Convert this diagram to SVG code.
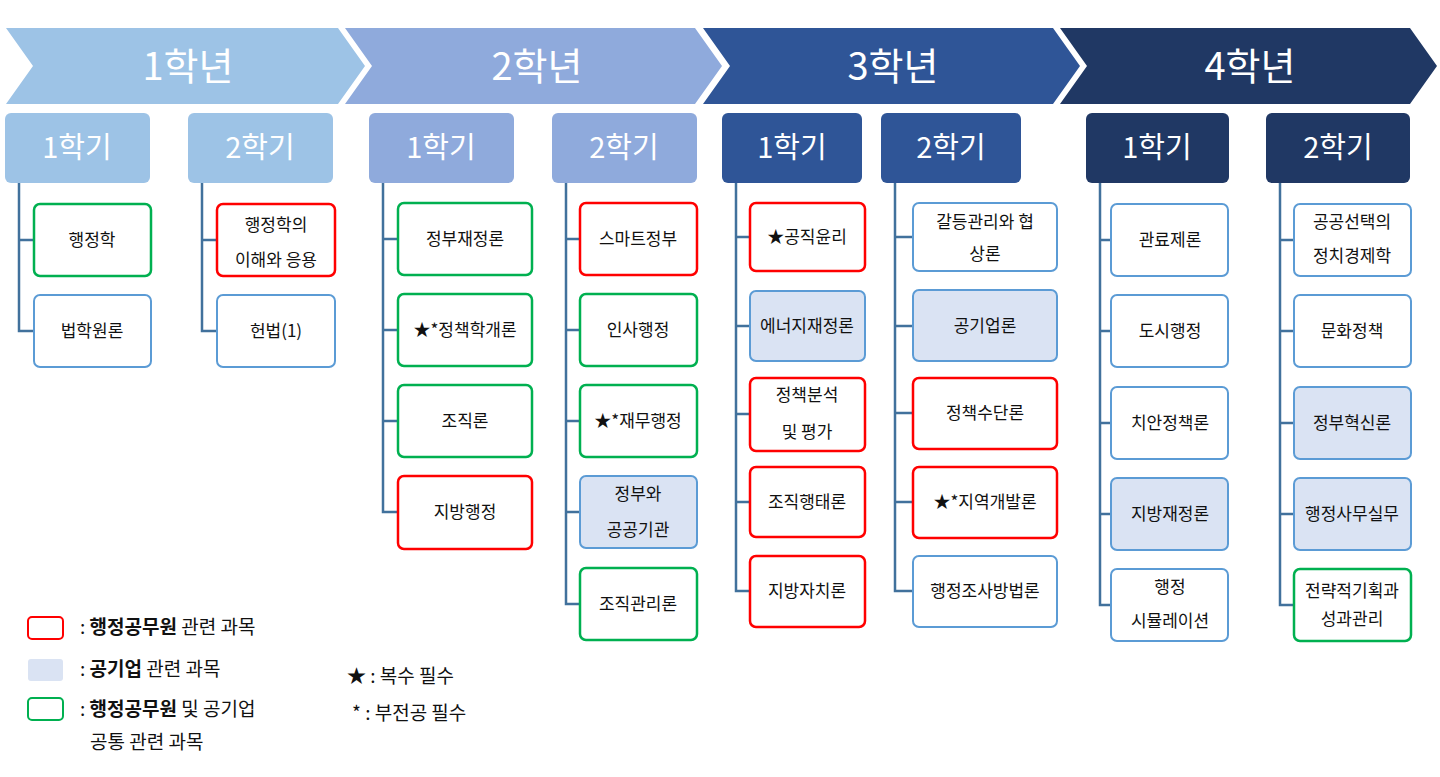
<svg xmlns="http://www.w3.org/2000/svg" width="1440" height="777" viewBox="0 0 1440 777">
<style>
text{font-family:"Noto Sans CJK KR","Noto Sans",sans-serif;}
.yr{font-size:38px;fill:#fff;text-anchor:middle;}
.sm{font-size:29px;fill:#fff;text-anchor:middle;}
.n{font-size:17px;fill:#111;text-anchor:middle;}
.g{fill:#fff;stroke:#00B050;stroke-width:2.5;}
.r{fill:#fff;stroke:#FF0000;stroke-width:2.5;}
.b{fill:#fff;stroke:#5B9BD5;stroke-width:2;}
.p{fill:#DAE3F3;stroke:#5B9BD5;stroke-width:2;}
.c{fill:none;stroke:#41719C;stroke-width:2.5;}
.lg{font-size:19px;fill:#111;}
</style>
<rect width="1440" height="777" fill="#fff"/>
<g id="years">
<polygon points="6,28 338,28 365,66 338,104 6,104 33,66" fill="#9DC3E6"/>
<text class="yr" x="188" y="80">1학년</text>
<polygon points="345,28 695,28 722,66 695,104 345,104 372,66" fill="#8FAADC"/>
<text class="yr" x="537" y="80">2학년</text>
<polygon points="703,28 1053,28 1080,66 1053,104 703,104 730,66" fill="#2F5597"/>
<text class="yr" x="893" y="80">3학년</text>
<polygon points="1060,28 1410,28 1437,66 1410,104 1060,104 1087,66" fill="#203864"/>
<text class="yr" x="1250" y="80">4학년</text>
</g>
<g id="semesters">
<rect x="5" y="113" width="145" height="70" rx="6" fill="#9DC3E6"/><text class="sm" x="77" y="158">1학기</text>
<rect x="188" y="113" width="145" height="70" rx="6" fill="#9DC3E6"/><text class="sm" x="260" y="158">2학기</text>
<rect x="369" y="113" width="145" height="70" rx="6" fill="#8FAADC"/><text class="sm" x="441" y="158">1학기</text>
<rect x="552" y="113" width="145" height="70" rx="6" fill="#8FAADC"/><text class="sm" x="624" y="158">2학기</text>
<rect x="722" y="113" width="140" height="70" rx="6" fill="#2F5597"/><text class="sm" x="792" y="158">1학기</text>
<rect x="881" y="113" width="140" height="70" rx="6" fill="#2F5597"/><text class="sm" x="951" y="158">2학기</text>
<rect x="1086" y="113" width="143" height="70" rx="6" fill="#203864"/><text class="sm" x="1157" y="158">1학기</text>
<rect x="1266" y="113" width="144" height="70" rx="6" fill="#203864"/><text class="sm" x="1338" y="158">2학기</text>
</g>
<g id="connectors">
<path class="c" d="M19,183V331H34M19,240H34"/>
<path class="c" d="M202,183V331H217M202,240H217"/>
<path class="c" d="M383,183V512H398M383,239H398M383,330H398M383,421H398"/>
<path class="c" d="M566,183V604H580M566,239H580M566,330H580M566,421H580M566,512H580"/>
<path class="c" d="M736,183V591H750M736,237H750M736,326H750M736,414H750M736,502H750"/>
<path class="c" d="M895,183V591H913M895,237H913M895,326H913M895,413H913M895,502H913"/>
<path class="c" d="M1100,183V605H1111M1100,240H1111M1100,331H1111M1100,423H1111M1100,514H1111"/>
<path class="c" d="M1280,183V605H1294M1280,240H1294M1280,331H1294M1280,423H1294M1280,514H1294"/>
</g>
<g id="n1"><rect class="g" x="34" y="204" width="117" height="72" rx="6"/><text class="n" x="92" y="246">행정학</text></g>
<g id="n2"><rect class="b" x="34" y="295" width="117" height="72" rx="6"/><text class="n" x="92" y="337">법학원론</text></g>
<g id="n3"><rect class="r" x="217" y="204" width="118" height="72" rx="6"/><text class="n" x="276" y="231">행정학의</text><text class="n" x="276" y="266">이해와 응용</text></g>
<g id="n4"><rect class="b" x="217" y="295" width="118" height="72" rx="6"/><text class="n" x="276" y="337">헌법(1)</text></g>
<g id="n5"><rect class="g" x="398" y="203" width="134" height="72" rx="6"/><text class="n" x="465" y="245">정부재정론</text></g>
<g id="n6"><rect class="g" x="398" y="294" width="134" height="72" rx="6"/><text class="n" x="465" y="336">★*정책학개론</text></g>
<g id="n7"><rect class="g" x="398" y="385" width="134" height="72" rx="6"/><text class="n" x="465" y="427">조직론</text></g>
<g id="n8"><rect class="r" x="398" y="476" width="134" height="73" rx="6"/><text class="n" x="465" y="518">지방행정</text></g>
<g id="n9"><rect class="r" x="580" y="203" width="117" height="72" rx="6"/><text class="n" x="638" y="245">스마트정부</text></g>
<g id="n10"><rect class="g" x="580" y="294" width="117" height="72" rx="6"/><text class="n" x="638" y="336">인사행정</text></g>
<g id="n11"><rect class="g" x="580" y="385" width="117" height="72" rx="6"/><text class="n" x="638" y="427">★*재무행정</text></g>
<g id="n12"><rect class="p" x="580" y="476" width="117" height="72" rx="6"/><text class="n" x="638" y="500">정부와</text><text class="n" x="638" y="536">공공기관</text></g>
<g id="n13"><rect class="g" x="580" y="568" width="117" height="72" rx="6"/><text class="n" x="638" y="610">조직관리론</text></g>
<g id="n14"><rect class="r" x="750" y="203" width="115" height="68" rx="6"/><text class="n" x="807" y="243">★공직윤리</text></g>
<g id="n15"><rect class="p" x="750" y="291" width="115" height="70" rx="6"/><text class="n" x="807" y="332">에너지재정론</text></g>
<g id="n16"><rect class="r" x="750" y="378" width="115" height="73" rx="6"/><text class="n" x="807" y="401">정책분석</text><text class="n" x="807" y="438">및 평가</text></g>
<g id="n17"><rect class="r" x="750" y="467" width="115" height="70" rx="6"/><text class="n" x="807" y="508">조직행태론</text></g>
<g id="n18"><rect class="r" x="750" y="556" width="115" height="71" rx="6"/><text class="n" x="807" y="597">지방자치론</text></g>
<g id="n19"><rect class="b" x="913" y="203" width="144" height="68" rx="6"/><text class="n" x="985" y="228">갈등관리와 협</text><text class="n" x="985" y="260">상론</text></g>
<g id="n20"><rect class="p" x="913" y="290" width="144" height="71" rx="6"/><text class="n" x="985" y="332">공기업론</text></g>
<g id="n21"><rect class="r" x="913" y="378" width="144" height="71" rx="6"/><text class="n" x="985" y="419">정책수단론</text></g>
<g id="n22"><rect class="r" x="913" y="467" width="144" height="71" rx="6"/><text class="n" x="985" y="508">★*지역개발론</text></g>
<g id="n23"><rect class="b" x="913" y="556" width="144" height="71" rx="6"/><text class="n" x="985" y="597">행정조사방법론</text></g>
<g id="n24"><rect class="b" x="1111" y="204" width="117" height="72" rx="6"/><text class="n" x="1170" y="246">관료제론</text></g>
<g id="n25"><rect class="b" x="1111" y="295" width="117" height="72" rx="6"/><text class="n" x="1170" y="337">도시행정</text></g>
<g id="n26"><rect class="b" x="1111" y="387" width="117" height="72" rx="6"/><text class="n" x="1170" y="429">치안정책론</text></g>
<g id="n27"><rect class="p" x="1111" y="478" width="117" height="72" rx="6"/><text class="n" x="1170" y="520">지방재정론</text></g>
<g id="n28"><rect class="b" x="1111" y="569" width="117" height="72" rx="6"/><text class="n" x="1170" y="593">행정</text><text class="n" x="1170" y="627">시뮬레이션</text></g>
<g id="n29"><rect class="b" x="1294" y="204" width="117" height="72" rx="6"/><text class="n" x="1352" y="228">공공선택의</text><text class="n" x="1352" y="262">정치경제학</text></g>
<g id="n30"><rect class="b" x="1294" y="295" width="117" height="72" rx="6"/><text class="n" x="1352" y="337">문화정책</text></g>
<g id="n31"><rect class="p" x="1294" y="387" width="117" height="72" rx="6"/><text class="n" x="1352" y="429">정부혁신론</text></g>
<g id="n32"><rect class="p" x="1294" y="478" width="117" height="72" rx="6"/><text class="n" x="1352" y="520">행정사무실무</text></g>
<g id="n33"><rect class="g" x="1294" y="569" width="117" height="72" rx="6"/><text class="n" x="1352" y="597">전략적기획과</text><text class="n" x="1352" y="625">성과관리</text></g>
<g id="legend">
<rect x="28" y="617" width="35" height="22" rx="4" fill="#fff" stroke="#FF0000" stroke-width="2"/>
<text class="lg" x="80" y="634">: <tspan font-weight="bold">행정공무원</tspan> 관련 과목</text>
<rect x="28" y="659" width="35" height="22" rx="3" fill="#DAE3F3"/>
<text class="lg" x="80" y="676">: <tspan font-weight="bold">공기업</tspan> 관련 과목</text>
<rect x="28" y="698" width="35" height="22" rx="4" fill="#fff" stroke="#00B050" stroke-width="2"/>
<text class="lg" x="80" y="716">: <tspan font-weight="bold">행정공무원</tspan> 및 공기업</text>
<text class="lg" x="90" y="749">공통 관련 과목</text>
<text class="lg" x="347" y="683">★ : 복수 필수</text>
<text class="lg" x="352" y="720">*  : 부전공 필수</text>
</g>
</svg>
